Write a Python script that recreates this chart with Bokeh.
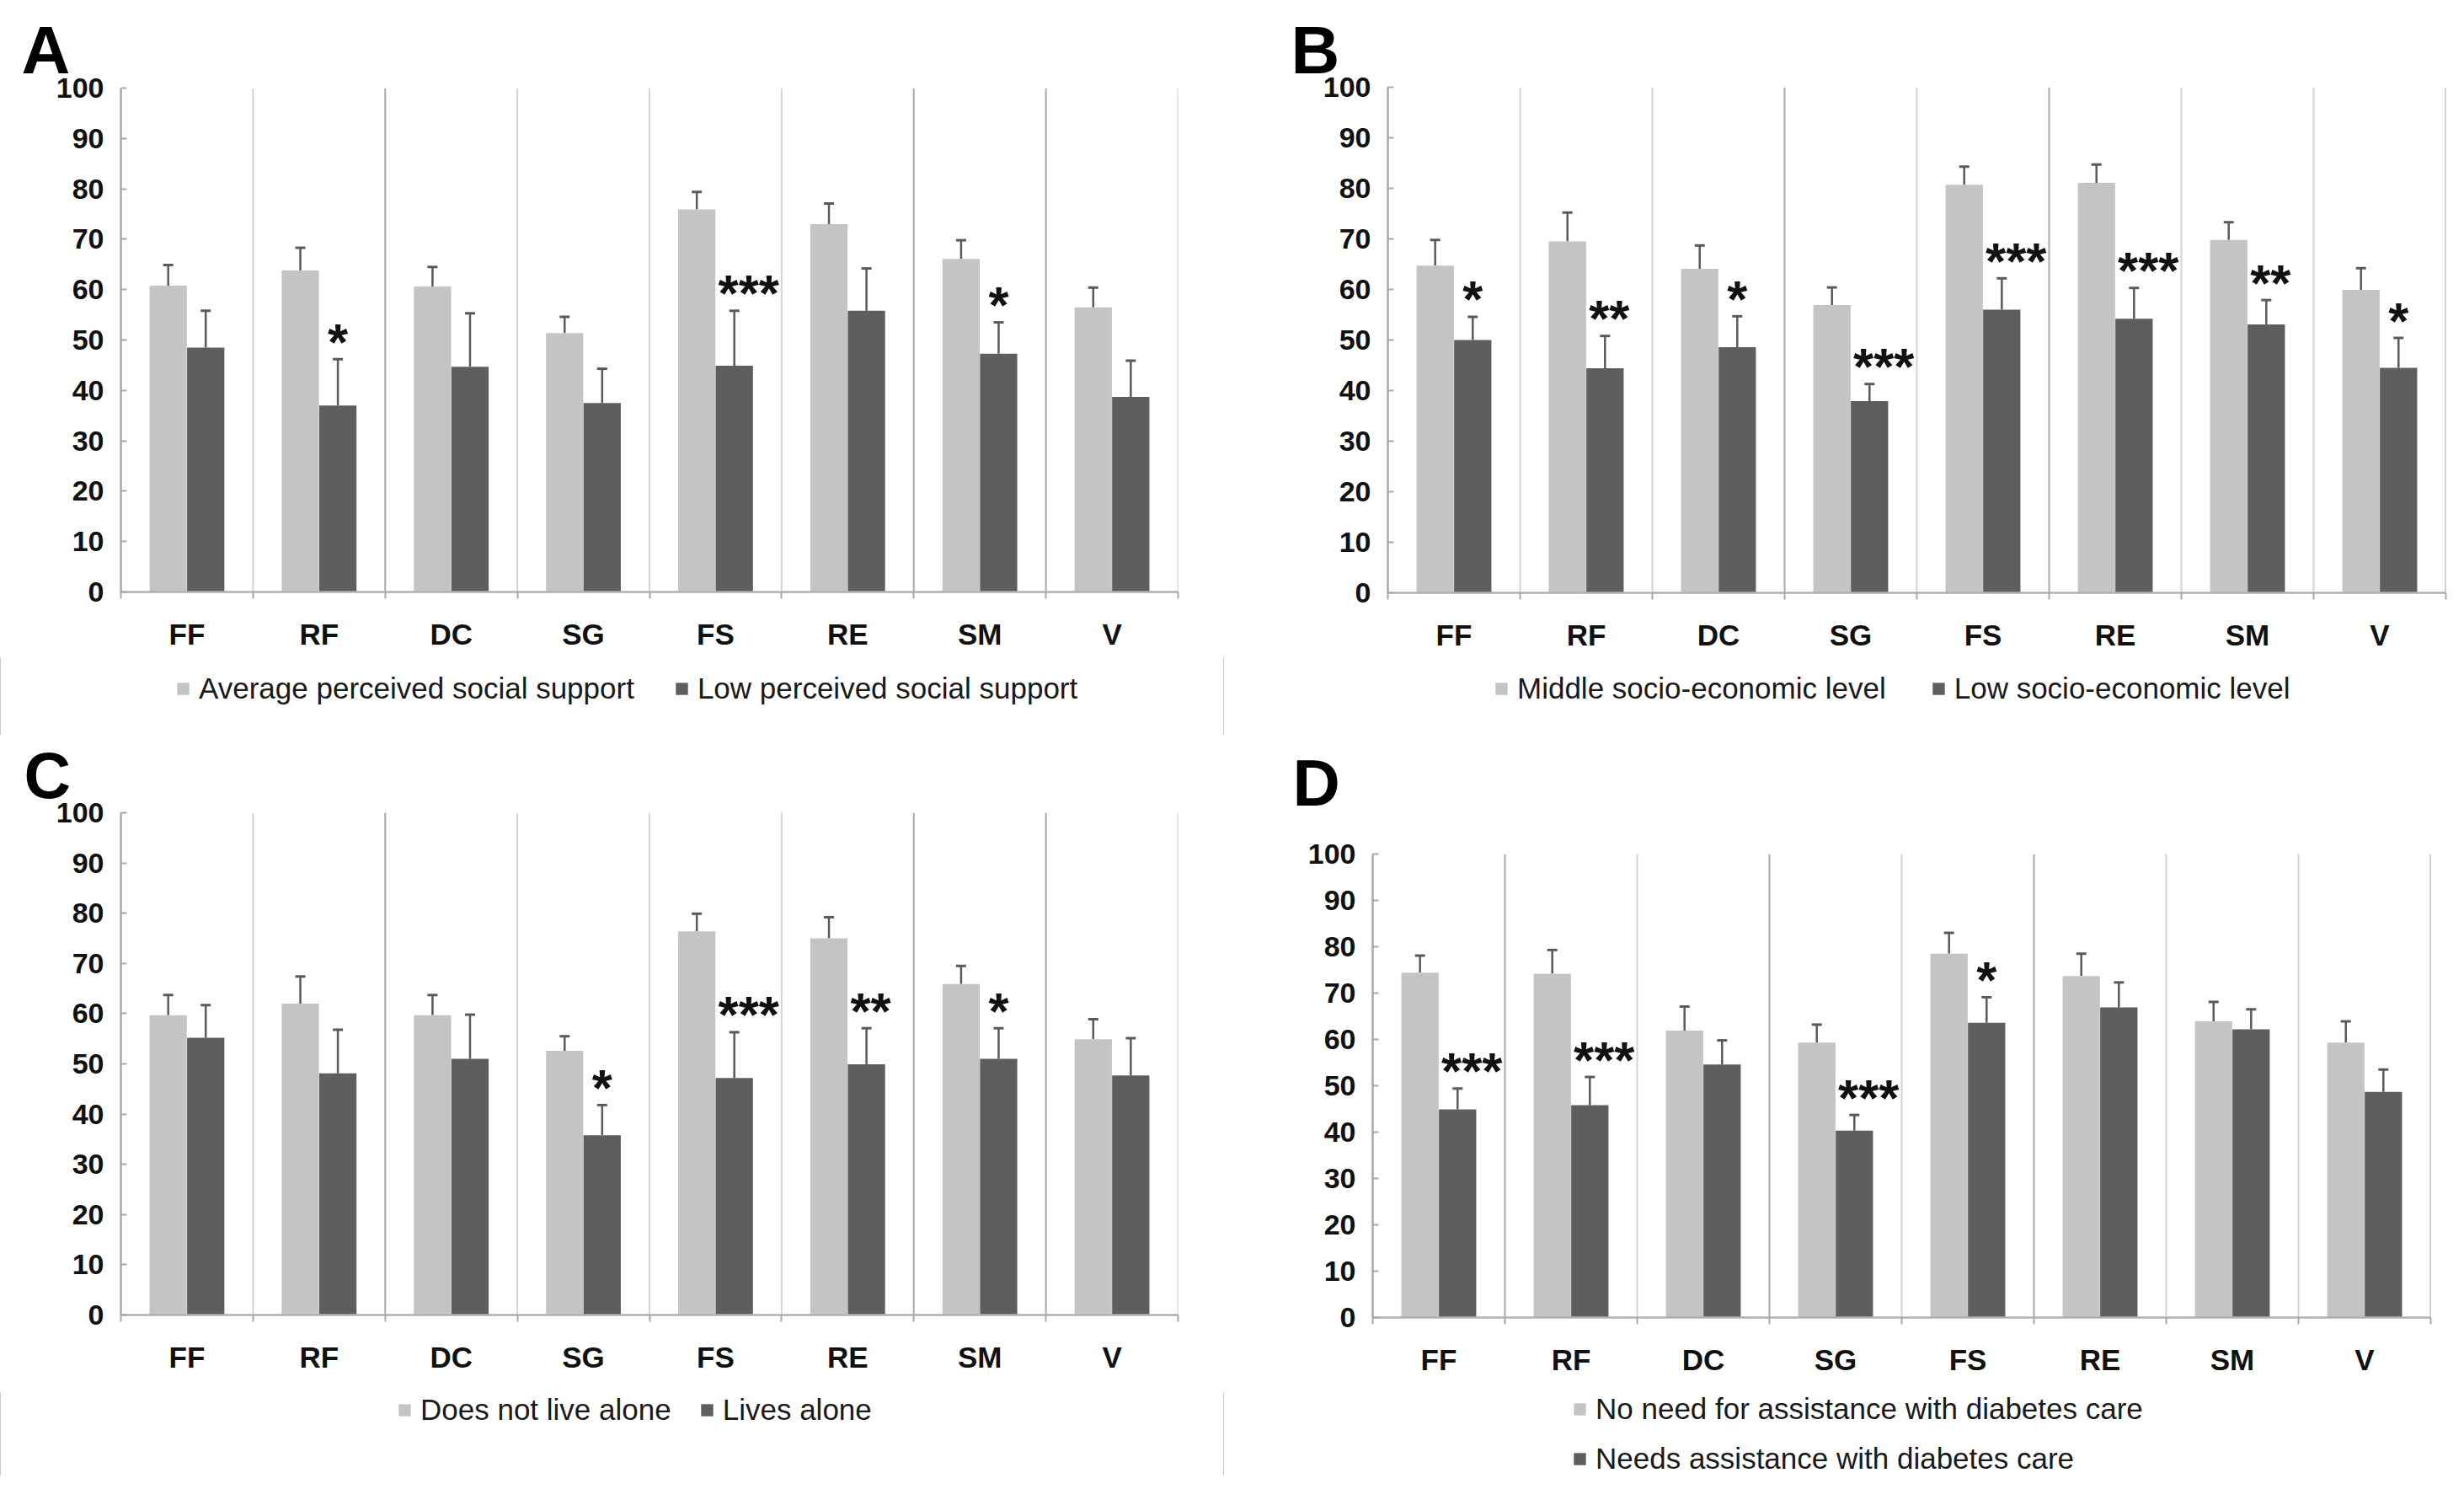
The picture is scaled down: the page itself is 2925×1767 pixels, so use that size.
from bokeh.plotting import figure
from bokeh.models import (Range1d, FixedTicker, Whisker, TeeHead, ColumnDataSource,
                          Legend, LegendItem, Title, Label)
from bokeh.layouts import column, row
from bokeh.embed import file_html
from bokeh.resources import INLINE
from bokeh.core.properties import value

# ---------------- data ----------------
categories = ["FF", "RF", "DC", "SG", "FS", "RE", "SM", "V"]
y_ticks = [0, 10, 20, 30, 40, 50, 60, 70, 80, 90, 100]

a_labels = ["Average perceived social support", "Low perceived social support"]
a_light = [60.8, 63.8, 60.6, 51.4, 75.9, 73.0, 66.1, 56.5]
a_light_upper = [64.9, 68.3, 64.5, 54.6, 79.4, 77.1, 69.8, 60.4]
a_dark = [48.5, 37.0, 44.7, 37.5, 44.9, 55.8, 47.3, 38.7]
a_dark_upper = [55.8, 46.2, 55.3, 44.3, 55.8, 64.2, 53.5, 45.9]
a_stars = ["", "*", "", "", "***", "", "*", ""]

b_labels = ["Middle socio-economic level", "Low socio-economic level"]
b_light = [64.7, 69.5, 64.1, 56.9, 80.7, 81.1, 69.8, 59.9]
b_light_upper = [69.8, 75.2, 68.7, 60.4, 84.3, 84.7, 73.3, 64.2]
b_dark = [50.0, 44.4, 48.6, 37.9, 56.0, 54.2, 53.1, 44.5]
b_dark_upper = [54.6, 50.8, 54.7, 41.3, 62.2, 60.3, 57.9, 50.4]
b_stars = ["*", "**", "*", "***", "***", "***", "**", "*"]

c_labels = ["Does not live alone", "Lives alone"]
c_light = [59.7, 62.0, 59.7, 52.6, 76.4, 75.0, 65.9, 54.9]
c_light_upper = [63.7, 67.4, 63.7, 55.5, 79.9, 79.2, 69.5, 58.9]
c_dark = [55.2, 48.1, 51.0, 35.8, 47.2, 49.9, 51.0, 47.7]
c_dark_upper = [61.7, 56.8, 59.8, 41.8, 56.3, 57.1, 57.1, 55.1]
c_stars = ["", "", "", "*", "***", "**", "*", ""]

d_labels = ["No need for assistance with diabetes care", "Needs assistance with diabetes care"]
d_light = [74.4, 74.2, 61.9, 59.3, 78.5, 73.7, 63.9, 59.3]
d_light_upper = [78.1, 79.3, 67.1, 63.2, 83.0, 78.5, 68.1, 63.9]
d_dark = [44.9, 45.8, 54.6, 40.3, 63.6, 66.9, 62.2, 48.7]
d_dark_upper = [49.4, 51.9, 59.8, 43.7, 69.1, 72.3, 66.5, 53.5]
d_stars = ["***", "***", "", "***", "*", "", "", ""]

LIGHT = "#c4c4c4"
DARK = "#5e5e5e"
FONT = "Liberation Sans"
SEP_L = "#d4d4d4"
SEP_M = "#a8a8a8"
STAR_SHIFT = {0: 0, 1: 0, 2: 5, 3: 17}


def strip(W, h):
    q = figure(width=W, height=h, output_backend="svg", toolbar_location=None,
               x_range=Range1d(0, 1), y_range=Range1d(0, 1),
               x_axis_type=None, y_axis_type=None, min_border=0,
               background_fill_color=None, border_fill_color=None)
    q.frame_align = False
    q.outline_line_color = None
    return q


def panel(letter, light, light_up, dark, dark_up, stars, labels, W, H,
          fl, fr, ft, fb, letter_cfg, leg_loc, leg_orient, leg_spacing, sep_colors,
          main_h=780, head_h=0, head_label=None):
    n = len(categories)
    p = figure(width=W, height=main_h, output_backend="svg", toolbar_location=None,
               x_range=Range1d(0, n), y_range=Range1d(0, 100),
               min_border_left=fl, min_border_right=W - fr,
               min_border_top=ft - head_h, min_border_bottom=main_h + head_h - fb,
               background_fill_color="white", border_fill_color="white")
    p.frame_align = False
    p.outline_line_color = None
    p.grid.visible = False

    if letter_cfg is not None:
        lsize, loff, lstand = letter_cfg
        p.title = Title(text=letter, align="left", offset=loff, standoff=lstand,
                        text_font=FONT, text_font_size=lsize, text_font_style="bold",
                        text_color="black")

    # separators between categories
    bounds = list(range(1, n + 1))
    p.segment(x0=bounds, y0=[0] * n, x1=bounds, y1=[100] * n,
              line_color=sep_colors, line_width=2)

    xl = [i + 0.5 - 0.142 for i in range(n)]
    xd = [i + 0.5 + 0.142 for i in range(n)]
    src_l = ColumnDataSource(dict(x=xl, top=light, up=light_up))
    src_d = ColumnDataSource(dict(x=xd, top=dark, up=dark_up, s=stars,
                                  dx=[STAR_SHIFT[len(s)] for s in stars]))
    p.vbar(x="x", top="top", bottom=0, width=0.282, source=src_l,
           fill_color=LIGHT, line_color=None)
    p.vbar(x="x", top="top", bottom=0, width=0.282, source=src_d,
           fill_color=DARK, line_color=None)

    for src in (src_l, src_d):
        w = Whisker(source=src, base="x", lower="top", upper="up", dimension="height",
                    line_color="#5a5a5a", line_width=2.5,
                    upper_head=TeeHead(size=12, line_color="#5a5a5a", line_width=3),
                    lower_head=None)
        p.add_layout(w)

    p.text(x="x", y="up", text="s", source=src_d, text_font=value(FONT),
           text_font_size="62px", text_font_style="bold", text_color="#111111",
           text_align="center", text_baseline="alphabetic", x_offset="dx", y_offset=-21)

    # axes
    p.yaxis.ticker = FixedTicker(ticks=y_ticks)
    p.yaxis.major_tick_in = 7
    p.yaxis.major_tick_out = 0
    p.yaxis.minor_tick_line_color = None
    p.yaxis.axis_line_color = "#a8a8a8"
    p.yaxis.axis_line_width = 2.5
    p.yaxis.major_tick_line_color = "#a8a8a8"
    p.yaxis.major_tick_line_width = 2
    p.yaxis.major_label_standoff = 20
    p.yaxis.major_label_text_font = FONT
    p.yaxis.major_label_text_font_size = "34px"
    p.yaxis.major_label_text_font_style = "bold"
    p.yaxis.major_label_text_color = "#111111"

    centers = [i + 0.5 for i in range(n)]
    p.xaxis.ticker = FixedTicker(ticks=centers, minor_ticks=list(range(0, n + 1)))
    p.xaxis.major_label_overrides = {c: lab for c, lab in zip(centers, categories)}
    p.xaxis.major_tick_in = 0
    p.xaxis.major_tick_out = 0
    p.xaxis.minor_tick_in = 0
    p.xaxis.minor_tick_out = 8
    p.xaxis.minor_tick_line_color = "#a8a8a8"
    p.xaxis.minor_tick_line_width = 2
    p.xaxis.axis_line_color = "#b0b0b0"
    p.xaxis.axis_line_width = 2.5
    p.xaxis.major_label_standoff = 22
    p.xaxis.major_label_text_font = FONT
    p.xaxis.major_label_text_font_size = "35px"
    p.xaxis.major_label_text_font_style = "bold"
    p.xaxis.major_label_text_color = "#111111"

    # legend strip below the chart
    q = strip(W, H - main_h - head_h)
    e1 = q.vbar(x=[-5], top=[1], width=0.1, fill_color=LIGHT, line_color=None)
    e2 = q.vbar(x=[-5], top=[1], width=0.1, fill_color=DARK, line_color=None)
    leg = Legend(items=[LegendItem(label=labels[0], renderers=[e1]),
                        LegendItem(label=labels[1], renderers=[e2])],
                 orientation=leg_orient, location=leg_loc,
                 glyph_width=18, glyph_height=18, label_standoff=10,
                 spacing=leg_spacing, padding=0, margin=0,
                 border_line_color=None, background_fill_alpha=0,
                 label_text_font=FONT, label_text_font_size="35px",
                 label_text_color="#1a1a1a")
    q.add_layout(leg)

    parts = [p, q]
    if head_h:
        t = strip(W, head_h)
        lx, ly, lsize = head_label
        t.add_layout(Label(x=lx, y=ly, x_units="screen", y_units="screen", text=letter,
                           text_font=FONT, text_font_size=lsize, text_font_style="bold",
                           text_color="black", text_align="left",
                           text_baseline="alphabetic"))
        parts = [t, p, q]
    return column(*parts, spacing=0)


M, L = SEP_M, SEP_L
pa = panel("A", a_light, a_light_upper, a_dark, a_dark_upper, a_stars, a_labels,
           1452, 872, 143, 1398, 104, 702, ("80px", -118, 2), (208, 35), "horizontal", 47,
           [L, M, L, L, L, M, M, L])
pb = panel("B", b_light, b_light_upper, b_dark, b_dark_upper, b_stars, b_labels,
           1457, 872, 195, 1451, 103, 703, ("80px", -115, 0), (321, 35), "horizontal", 53,
           [L, L, M, L, M, L, L, M])
pc = panel("C", c_light, c_light_upper, c_dark, c_dark_upper, c_stars, c_labels,
           1452, 879, 143, 1398, 89, 688, ("77px", -115, 4), (471, 58), "horizontal", 33,
           [L, M, L, L, L, M, M, L])
pd = panel("D", d_light, d_light_upper, d_dark, d_dark_upper, d_stars, d_labels,
           1457, 879, 177, 1433, 141, 691, None, (414, 0), "vertical", 19,
           [M, L, M, L, M, L, L, M], main_h=680, head_h=100, head_label=(82, 44, "78px"))

layout = column(row(pa, pb, spacing=0), row(pc, pd, spacing=0), spacing=0)
open("out.html", "w").write(file_html(layout, INLINE))
